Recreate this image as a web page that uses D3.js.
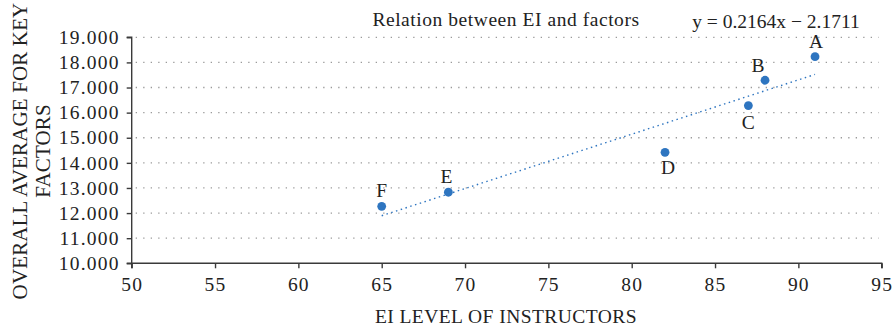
<!DOCTYPE html>
<html>
<head>
<meta charset="utf-8">
<script src="https://cdn.jsdelivr.net/npm/d3@7"></script>
<style>
  body { margin: 0; background: #fff; }
  text { font-family: "Liberation Serif", "Times New Roman", serif; fill: #222; }
</style>
</head>
<body>
<div id="content"></div>
<script>
const pointLabels = ["A", "B", "C", "D", "E", "F"];
const eiLevel = [91, 88, 87, 82, 69, 65];
const keyAverage = [18.23, 17.29, 16.28, 14.42, 12.83, 12.27];
const xTicks = [50, 55, 60, 65, 70, 75, 80, 85, 90, 95];
const yTicks = [10, 11, 12, 13, 14, 15, 16, 17, 18, 19];
const trendSlope = 0.2164;
const trendIntercept = -2.1711;

const width = 894, height = 327;
const blue = "#2e75c0";
const fontSize = 19.5;

const svg = d3.select("#content")
    .append("svg")
    .attr("width", width)
    .attr("height", height);

const x = d3.scaleLinear().domain([50, 95]).range([131.7, 881.7]);
const y = d3.scaleLinear().domain([10, 19]).range([263.3, 37.3]);

// dotted horizontal grid
svg.append("g")
    .selectAll("line")
    .data(yTicks.slice(1))
    .enter()
    .append("line")
    .attr("x1", x(50) + 4)
    .attr("x2", x(95) - 3)
    .attr("y1", d => y(d))
    .attr("y2", d => y(d))
    .style("stroke", "#9a9a9a")
    .style("stroke-width", 1.3)
    .style("stroke-dasharray", "1.3,6.2");

// axes
const xAxis = svg.append("g")
    .attr("transform", "translate(0," + y(10) + ")")
    .call(d3.axisBottom(x).tickValues(xTicks).tickSize(5).tickPadding(9));
const yAxis = svg.append("g")
    .attr("transform", "translate(" + x(50) + ",0)")
    .call(d3.axisLeft(y).tickValues(yTicks).tickSize(5).tickPadding(7)
        .tickFormat(d3.format(".3f")));

[xAxis, yAxis].forEach(function (ax) {
    ax.select(".domain").style("stroke", "#3a3a3a").style("stroke-width", 1.4);
    ax.selectAll(".tick line").style("stroke", "#3a3a3a").style("stroke-width", 1.4);
    ax.selectAll("text")
        .style("font-family", "Liberation Serif, serif")
        .style("font-size", fontSize + "px")
        .style("letter-spacing", "1.2px")
        .style("fill", "#222");
});
yAxis.select(".domain").attr("d", "M-5," + y(10) + "H0V" + y(19) + "H-5");
xAxis.select(".domain").attr("d", "M" + x(50) + ",5V0H" + x(95) + "V5");

// trendline
const xMin = d3.min(eiLevel), xMax = d3.max(eiLevel);
svg.append("line")
    .attr("x1", x(xMin))
    .attr("y1", y(trendSlope * xMin + trendIntercept))
    .attr("x2", x(xMax))
    .attr("y2", y(trendSlope * xMax + trendIntercept))
    .style("stroke", blue)
    .style("stroke-width", 1.4)
    .style("stroke-dasharray", "1.5,3.5");

// points
const pts = eiLevel.map((d, i) => ({ x: d, y: keyAverage[i], label: pointLabels[i] }));
svg.append("g")
    .selectAll("circle")
    .data(pts)
    .enter()
    .append("circle")
    .attr("cx", d => x(d.x))
    .attr("cy", d => y(d.y))
    .attr("r", 4.4)
    .style("fill", blue);

// label offsets: [dx, dy]
const labelOffset = { A: [1, -9], B: [-7, -8], C: [0, 23], D: [3, 22], E: [-2, -9], F: [0, -9] };
svg.append("g")
    .selectAll("text")
    .data(pts)
    .enter()
    .append("text")
    .attr("x", d => x(d.x) + labelOffset[d.label][0])
    .attr("y", d => y(d.y) + labelOffset[d.label][1])
    .attr("text-anchor", "middle")
    .style("font-size", fontSize + "px")
    .text(d => d.label);

// titles
svg.append("text")
    .attr("x", 506)
    .attr("y", 26)
    .attr("text-anchor", "middle")
    .style("font-size", fontSize + "px")
    .style("letter-spacing", "0.55px")
    .text("Relation between EI and factors");

svg.append("text")
    .attr("x", 776)
    .attr("y", 28)
    .attr("text-anchor", "middle")
    .style("font-size", fontSize + "px")
    .text("y = 0.2164x \u2212 2.1711");

svg.append("text")
    .attr("x", 506)
    .attr("y", 323)
    .attr("text-anchor", "middle")
    .style("font-size", fontSize + "px")
    .style("letter-spacing", "0.45px")
    .text("EI LEVEL OF INSTRUCTORS");

const yTitle = svg.append("text")
    .attr("transform", "translate(0,151) rotate(-90)")
    .attr("text-anchor", "middle")
    .style("font-size", "21px")
    .style("letter-spacing", "0.15px");
yTitle.append("tspan").attr("x", 0).attr("y", 26.5).text("OVERALL AVERAGE FOR KEY");
yTitle.append("tspan").attr("x", 0).attr("y", 50).text("FACTORS");
</script>
</body>
</html>
